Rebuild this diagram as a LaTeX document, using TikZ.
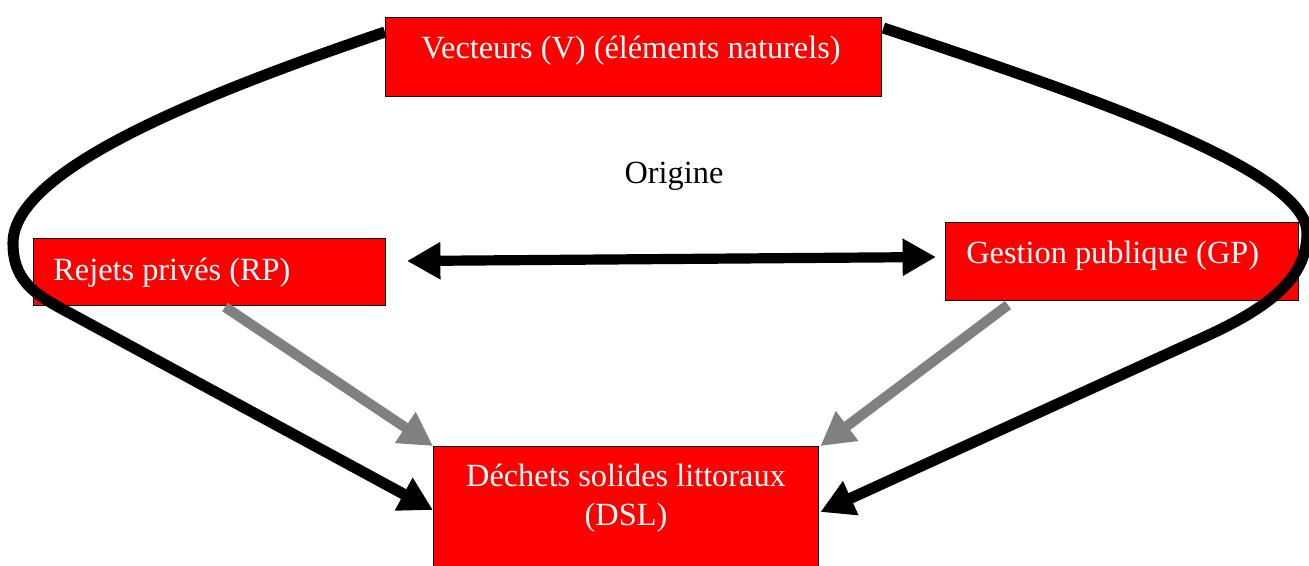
\documentclass[tikz,border=0pt]{standalone}
\usepackage{fontspec}
\setmainfont{Liberation Serif}
\usetikzlibrary{arrows.meta,calc}
\begin{document}
\begin{tikzpicture}[x=0.02cm,y=-0.02cm,
  box/.style={draw=black,line width=0.8pt,fill=red,inner sep=0pt,anchor=north west},
  lbl/.style={text=white,font=\fontsize{18.4}{22}\selectfont,inner sep=0pt},
  blk/.style={line width=6.3pt,draw=black,line join=round,-{Triangle[length=19pt,width=20pt]}},
  gry/.style={line width=5.8pt,draw=gray,-{Triangle[length=19pt,width=20pt]}},
  dbl/.style={line width=5.8pt,draw=black,{Triangle[length=19pt,width=20pt]}-{Triangle[length=19pt,width=20pt]}}]
\useasboundingbox (0,0) rectangle (1309,565);
% boxes
\node[box,minimum width=496*0.02cm,minimum height=79*0.02cm] (V) at (385,17) {};
\node[box,minimum width=352*0.02cm,minimum height=67*0.02cm] (RP) at (33,238) {};
\node[box,minimum width=353*0.02cm,minimum height=78*0.02cm] (GP) at (945,222) {};
\node[box,minimum width=385*0.02cm,minimum height=130*0.02cm] (DSL) at (433,446) {};
% texts
\node[lbl] (Vt) at (631,51) {Vecteurs (V) (éléments naturels)};
\node[lbl,anchor=west] (RPt) at (53,273) {Rejets privés (RP)};
\node[lbl,anchor=west] (GPt) at (966,256) {Gestion publique (GP)};
\node[lbl,align=center,font=\fontsize{18.4}{22.1}\selectfont] (DSLt) at (626,498) {Déchets solides littoraux\\(DSL)};
\node[font=\fontsize{18.4}{22}\selectfont,inner sep=0pt] (O) at (674,176) {Origine};
% connector end points
\coordinate (vl) at ($(V.north west)+(0,15)$);
\coordinate (vr) at ($(V.north east)+(1,11)$);
\coordinate (dl) at ($(DSL.north west)+(0,64)$);
\coordinate (dr) at ($(DSL.north east)+(1,66)$);
\coordinate (rps) at (225,307);
\coordinate (gps) at (1008,305);
\coordinate (rpe) at (407,261);
\coordinate (gpe) at (936,257);
% curves
\draw[blk] (vl) .. controls (200,95) and (13,170) .. (13,243)
  .. controls (13,285) and (40,297) .. (77,317) -- (dl);
\draw[blk] (vr) .. controls (1085,95) and (1307,170) .. (1307,233)
  .. controls (1307,282) and (1262,311) .. (1200,339) -- (dr);
% gray arrows
\draw[gry] (rps) -- (DSL.north west);
\draw[gry] (gps) -- ($(DSL.north east)+(1,0)$);
% double arrow
\draw[dbl] (rpe) -- (gpe);
\end{tikzpicture}
\end{document}
